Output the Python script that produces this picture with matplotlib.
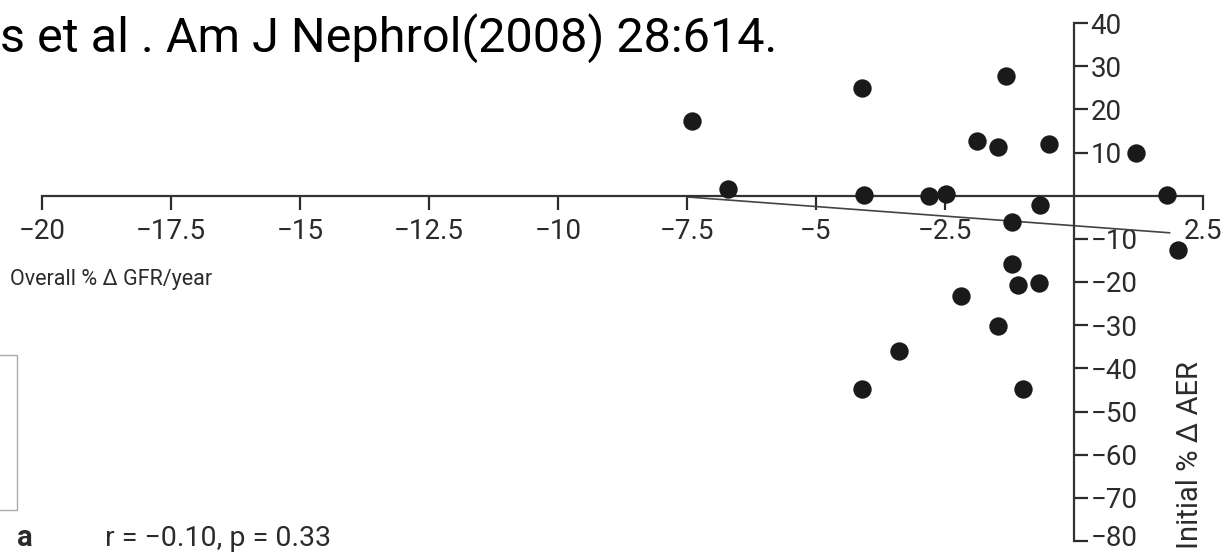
import matplotlib.pyplot as plt
from matplotlib.patches import Rectangle
from matplotlib.transforms import ScaledTranslation

# data
gfr = [-7.40, -6.71, -4.11, -4.07, -2.81, -2.48, -1.88, -1.47, -1.32, -0.48,
       -0.66, -1.20, -1.20, -1.09, -0.68, -2.19, -1.47, -3.39, -4.11, -0.99,
       1.20, 1.80, 2.02]
aer = [17.3, 1.6, 25.0, 0.2, 0.0, 0.5, 12.7, 11.3, 27.8, 12.0,
       -2.1, -6.0, -15.8, -20.8, -20.2, -23.2, -30.1, -36.1, -44.7, -44.9,
       10.0, 0.2, -12.7]
fit_x = [-7.5, 1.85]
fit_y = [-0.3, -8.6]

x_ticks = [-20, -17.5, -15, -12.5, -10, -7.5, -5, -2.5, 2.5]
x_labels = ['\u221220', '\u221217.5', '\u221215', '\u221212.5', '\u221210',
            '\u22127.5', '\u22125', '\u22122.5', '2.5']
y_ticks = [40, 30, 20, 10, -10, -20, -30, -40, -50, -60, -70, -80]
y_labels = ['40', '30', '20', '10', '\u221210', '\u221220', '\u221230', '\u221240',
            '\u221250', '\u221260', '\u221270', '\u221280']

plt.rcParams['font.family'] = ['Roboto', 'DejaVu Sans']
ink = '#2b2b2b'

W, H = 1224, 554
fig = plt.figure(figsize=(W / 100, H / 100), dpi=100)
ax = fig.add_axes([42 / W, 1 - 541 / H, (1203 - 42) / W, (541 - 23) / H])
ax.patch.set_visible(False)
ax.set_xlim(-20, 2.5)
ax.set_ylim(-80, 40)

ax.plot(fit_x, fit_y, color='#444444', lw=1.2, zorder=2)
ax.scatter(gfr, aer, s=175, color='#1a1a1a', zorder=3, clip_on=False, linewidths=0)

ax.spines['left'].set_visible(False)
ax.spines['top'].set_visible(False)
ax.spines['right'].set_position(('data', 0))
ax.spines['bottom'].set_position(('data', 0))
for s in ['right', 'bottom']:
    ax.spines[s].set_linewidth(1.6)
    ax.spines[s].set_color('#333333')

ax.yaxis.tick_right()
ax.set_yticks(y_ticks)
ax.set_yticklabels(y_labels)
ax.set_xticks(x_ticks)
ax.set_xticklabels(x_labels)
ax.tick_params(axis='y', direction='out', length=10, width=1.6, pad=2,
               labelsize=20, colors=ink)
ax.tick_params(axis='x', direction='out', length=10, width=1.6, pad=6,
               labelsize=20, colors=ink)

# keep the lowest label inside the picture
low = ax.get_yticklabels()[-1]
low.set_transform(low.get_transform() + ScaledTranslation(0, 5 / 100, fig.dpi_scale_trans))

fig.text(0, 1 - 52 / H, 's et al . Am J Nephrol(2008) 28:614.', fontsize=35,
         va='baseline', ha='left', color='black')
fig.text(10 / W, 1 - 279 / H, 'Overall % \u0394 GFR/year', fontsize=15.5,
         va='center', ha='left', color=ink)
fig.text(1190 / W, 1 - 549 / H, 'Initial % \u0394 AER', fontsize=21, rotation=90,
         va='bottom', ha='center', color=ink)
fig.text(25 / W, 1 - 546 / H, 'a', fontsize=21, fontweight='bold',
         va='baseline', ha='center', color=ink)
fig.text(105 / W, 1 - 546 / H, 'r = \u22120.10, p = 0.33', fontsize=20.5,
         va='baseline', ha='left', color=ink)

fig.patches.append(Rectangle((-2 / W, 1 - 510 / H), 19 / W, 155 / H,
                             transform=fig.transFigure, fill=False,
                             edgecolor='#aaaaaa', lw=1.0))

fig.savefig('out.png', dpi=100)
